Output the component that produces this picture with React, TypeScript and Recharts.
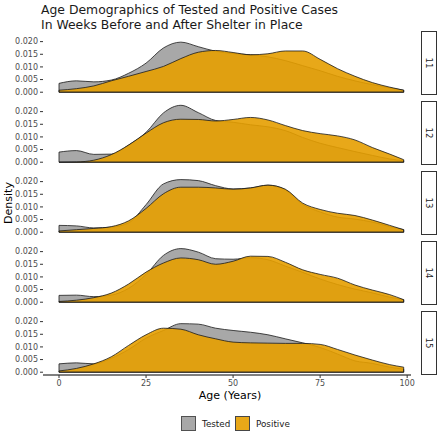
import React from 'react';
import { AreaChart, Area, XAxis, YAxis, ReferenceLine } from 'recharts';

// age grid shared by all panels
const AGES = [0, 5, 10, 15, 20, 25, 30, 35, 40, 45, 50, 55, 60, 65, 70, 75, 80, 85, 90, 95, 99];
const WEEKS = ['11', '12', '13', '14', '15'];
const X_TICKS = [0, 25, 50, 75, 100];
const Y_TICKS = [0, 0.005, 0.01, 0.015, 0.02];

// density estimates, one array per week
const TESTED_11 = [0.0035, 0.0045, 0.0041, 0.0048, 0.0075, 0.0115, 0.0175, 0.0198, 0.018, 0.0162, 0.0153, 0.0148, 0.014, 0.0125, 0.0105, 0.0085, 0.0063, 0.0045, 0.003, 0.0017, 0.0008];
const POSITIVE_11 = [0.0008, 0.0014, 0.0025, 0.0045, 0.0063, 0.0082, 0.0102, 0.0133, 0.0158, 0.0165, 0.0157, 0.0148, 0.0152, 0.0163, 0.0163, 0.013, 0.0093, 0.0063, 0.0038, 0.002, 0.0008];

const TESTED_12 = [0.004, 0.0046, 0.0031, 0.0032, 0.0068, 0.0118, 0.0195, 0.0225, 0.0196, 0.0165, 0.0158, 0.0148, 0.014, 0.0125, 0.0098, 0.0075, 0.0058, 0.0042, 0.0027, 0.0013, 0.0006];
const POSITIVE_12 = [0, 0.0001, 0.0008, 0.003, 0.0068, 0.0115, 0.0156, 0.017, 0.0169, 0.0163, 0.0169, 0.0177, 0.0167, 0.0145, 0.0125, 0.0113, 0.0104, 0.0088, 0.0058, 0.0032, 0.001];

const TESTED_13 = [0.0027, 0.0025, 0.0017, 0.002, 0.0037, 0.0109, 0.0191, 0.0208, 0.0204, 0.0184, 0.0171, 0.0175, 0.0186, 0.0168, 0.011, 0.008, 0.006, 0.0052, 0.004, 0.0022, 0.001];
const POSITIVE_13 = [0.0005, 0.001, 0.0015, 0.0022, 0.0045, 0.0094, 0.0152, 0.0178, 0.0178, 0.0175, 0.017, 0.0175, 0.0186, 0.017, 0.0115, 0.009, 0.0075, 0.0066, 0.0048, 0.0027, 0.001];

const TESTED_14 = [0.0027, 0.0028, 0.0022, 0.0028, 0.0055, 0.011, 0.0185, 0.0212, 0.0198, 0.0172, 0.017, 0.0176, 0.0168, 0.0143, 0.0118, 0.0092, 0.007, 0.0052, 0.0037, 0.002, 0.001];
const POSITIVE_14 = [0.0003, 0.0008, 0.0018, 0.0036, 0.0072, 0.0119, 0.0155, 0.0175, 0.0168, 0.015, 0.0162, 0.0182, 0.0181, 0.0158, 0.0128, 0.011, 0.0095, 0.0068, 0.0048, 0.003, 0.001];

const TESTED_15 = [0.0033, 0.0037, 0.0033, 0.0055, 0.009, 0.0135, 0.0165, 0.0192, 0.019, 0.0174, 0.0165, 0.0158, 0.0148, 0.0132, 0.0116, 0.0098, 0.0072, 0.0045, 0.0035, 0.002, 0.0012];
const POSITIVE_15 = [0.0005, 0.0015, 0.0033, 0.0061, 0.0106, 0.0148, 0.0174, 0.017, 0.0148, 0.0132, 0.0119, 0.0116, 0.0115, 0.0114, 0.0114, 0.011, 0.009, 0.0068, 0.0048, 0.003, 0.002];

const TESTED = [TESTED_11, TESTED_12, TESTED_13, TESTED_14, TESTED_15];
const POSITIVE = [POSITIVE_11, POSITIVE_12, POSITIVE_13, POSITIVE_14, POSITIVE_15];

const FONT = '"DejaVu Sans", sans-serif';
const GREY = '#999999';
const ORANGE = '#E69F00';
const OUTLINE = '#1a1a1a';

const PANEL_TOP = 31;
const PANEL_H = 64;
const PANEL_STEP = 70;
const PAD = 5; // extra room so edge tick labels are not clipped
const CHART_W = 420;
const X_AXIS_H = 22;

const tickStyle = { fill: '#4d4d4d', fontSize: 8, fontFamily: FONT };

const outline = (values: number[], key: string) => {
  const first = AGES[0];
  const last = AGES[AGES.length - 1];
  return [
    <ReferenceLine key={key + 'b'} segment={[{ x: first, y: 0 }, { x: last, y: 0 }]} stroke={OUTLINE} strokeWidth={0.8} />,
    <ReferenceLine key={key + 'l'} segment={[{ x: first, y: 0 }, { x: first, y: values[0] }]} stroke={OUTLINE} strokeWidth={0.8} />,
    <ReferenceLine key={key + 'r'} segment={[{ x: last, y: 0 }, { x: last, y: values[values.length - 1] }]} stroke={OUTLINE} strokeWidth={0.8} />
  ];
};

const Panel: React.FC<{ idx: number }> = ({ idx }) => {
  const isLast = idx === WEEKS.length - 1;
  const data = AGES.map((age, i) => ({ age, tested: TESTED[idx][i], positive: POSITIVE[idx][i] }));
  return (
    <div style={{ position: 'absolute', left: 0, top: PANEL_TOP + PANEL_STEP * idx - PAD }}>
      <AreaChart
        width={CHART_W}
        height={PANEL_H + 2 * PAD + (isLast ? X_AXIS_H : 0)}
        data={data}
        margin={{ top: PAD, right: 9, bottom: PAD, left: 0 }}
      >
        <XAxis
          dataKey="age"
          type="number"
          domain={[-4.6, 101.1]}
          ticks={X_TICKS}
          interval={0}
          allowDataOverflow
          hide={!isLast}
          height={X_AXIS_H}
          tick={tickStyle}
          tickSize={3}
          tickMargin={2}
          axisLine={{ stroke: '#000', strokeWidth: 1 }}
          tickLine={{ stroke: '#333' }}
        />
        <YAxis
          type="number"
          domain={[-0.0011, 0.0242]}
          ticks={Y_TICKS}
          interval={0}
          allowDataOverflow
          width={43}
          tick={tickStyle}
          tickSize={3}
          tickMargin={2}
          axisLine={false}
          tickLine={{ stroke: '#333' }}
          tickFormatter={(v: number) => v.toFixed(3)}
        />
        <Area
          type="monotone"
          dataKey="tested"
          baseValue={0}
          fill={GREY}
          fillOpacity={0.85}
          stroke={OUTLINE}
          strokeWidth={0.8}
          isAnimationActive={false}
        />
        {outline(TESTED[idx], 't')}
        <Area
          type="monotone"
          dataKey="positive"
          baseValue={0}
          fill={ORANGE}
          fillOpacity={0.9}
          stroke={OUTLINE}
          strokeWidth={0.8}
          isAnimationActive={false}
        />
        {outline(POSITIVE[idx], 'p')}
      </AreaChart>
    </div>
  );
};

const Strip: React.FC<{ idx: number }> = ({ idx }) => (
  <div
    style={{
      position: 'absolute',
      left: 421,
      top: PANEL_TOP + PANEL_STEP * idx,
      width: 14,
      height: PANEL_H - 2,
      border: '1px solid #333',
      background: '#fff',
      display: 'flex',
      alignItems: 'center',
      justifyContent: 'center'
    }}
  >
    <span style={{ transform: 'rotate(90deg)', fontSize: 8.5, color: '#1a1a1a', fontFamily: FONT, whiteSpace: 'nowrap' }}>
      {WEEKS[idx]}
    </span>
  </div>
);

const LegendKey: React.FC<{ color: string; opacity: number; label: string; left: number }> = ({ color, opacity, label, left }) => (
  <div style={{ position: 'absolute', left, top: 416, display: 'flex', alignItems: 'center', height: 15 }}>
    <div style={{ width: 13, height: 13, border: '1px solid #333', background: color, opacity }} />
    <span style={{ marginLeft: 6, fontSize: 8.8, color: '#1a1a1a', fontFamily: FONT }}>{label}</span>
  </div>
);

export default function App() {
  return (
    <div style={{ position: 'absolute', left: 0, top: 0, width: 440, height: 435, background: '#fff', fontFamily: FONT }}>
      <div style={{ position: 'absolute', left: 41, top: 2, fontSize: 12.4, lineHeight: '15px', color: '#1a1a1a', whiteSpace: 'nowrap' }}>
        Age Demographics of Tested and Positive Cases
        <br />
        In Weeks Before and After Shelter in Place
      </div>
      {WEEKS.map((w, i) => (
        <Panel key={w} idx={i} />
      ))}
      {WEEKS.map((w, i) => (
        <Strip key={w} idx={i} />
      ))}
      <div
        style={{
          position: 'absolute',
          left: 8,
          top: 203,
          transform: 'translate(-50%, -50%) rotate(-90deg)',
          fontSize: 11,
          color: '#000',
          whiteSpace: 'nowrap'
        }}
      >
        Density
      </div>
      <div
        style={{
          position: 'absolute',
          left: 230,
          top: 395,
          transform: 'translate(-50%, -50%)',
          fontSize: 11,
          color: '#000',
          whiteSpace: 'nowrap'
        }}
      >
        Age (Years)
      </div>
      <LegendKey color={GREY} opacity={0.85} label="Tested" left={181} />
      <LegendKey color={ORANGE} opacity={0.9} label="Positive" left={235} />
    </div>
  );
}
